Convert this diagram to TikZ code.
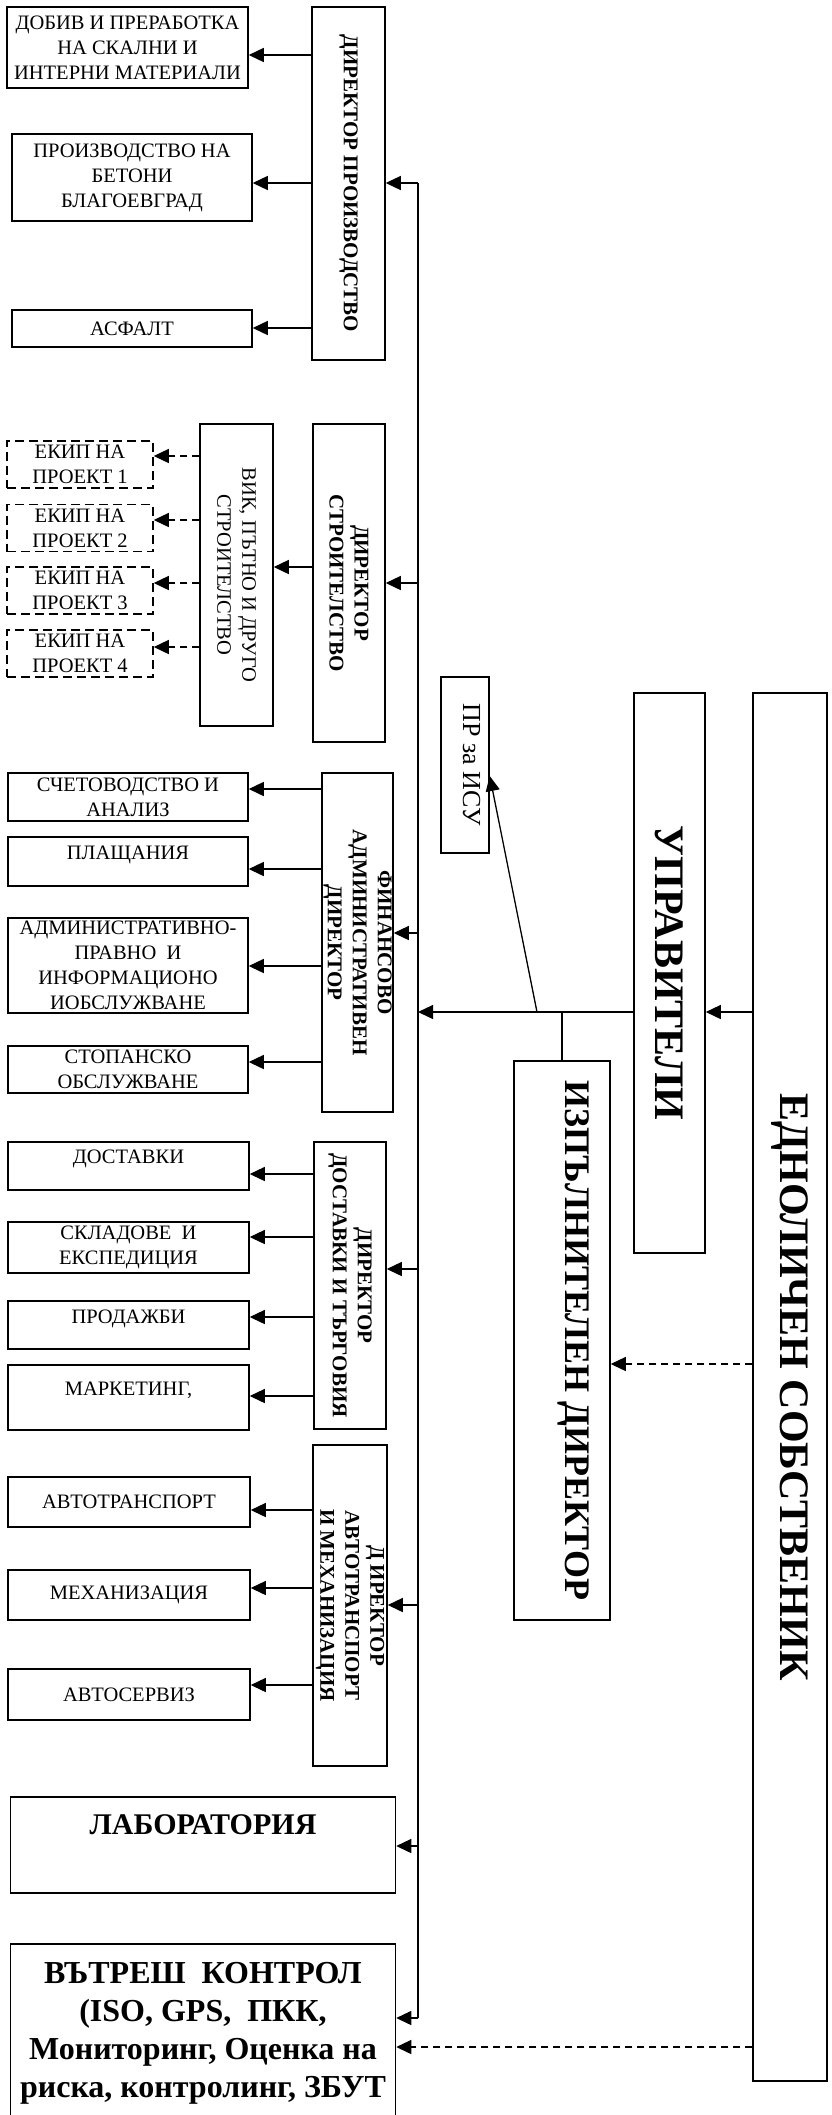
\documentclass[tikz,border=0pt]{standalone}
\usepackage{fontspec}
\setmainfont{Liberation Serif}
\usetikzlibrary{arrows.meta}

\begin{document}
\begin{tikzpicture}[x=1pt, y=-1pt,
		box/.style={draw, line width=1.5pt, inner sep=0pt, align=center, font=\fontsize{20.5}{25}\selectfont},
		ekipbox/.style={box, dash pattern=on 9pt off 5pt, minimum width=146, minimum height=47},
		rotbox/.style={box, rotate=-90},
		dirbox/.style={rotbox, font=\bfseries\fontsize{21}{25}\selectfont},
		bigbox/.style={rotbox, font=\bfseries\fontsize{#1}{#1}\selectfont},
		uptext/.style 2 args={text height=#1, text depth=#2},
		link/.style={line width=1.3pt},
		arr/.style={link, -{Triangle[length=15pt, width=14pt]}},
		darr/.style={arr, dash pattern=on 7pt off 5pt}]

		\useasboundingbox (0,0) rectangle (831,2115);

		% production
		\node (dobiv)[box, minimum width=241, minimum height=81] at (127.5,47.5) {ДОБИВ И ПРЕРАБОТКА\\НА СКАЛНИ И\\ИНТЕРНИ МАТЕРИАЛИ};
		\node (beton)[box, minimum width=240, minimum height=87] at (132,177.5) {ПРОИЗВОДСТВО НА\\БЕТОНИ\\БЛАГОЕВГРАД};
		\node (asfalt)[box, minimum width=240, minimum height=37] at (132,328.5) {АСФАЛТ};
		\node (dirpr)[dirbox, minimum width=353, minimum height=73] at (348.5,183.5) {ДИРЕКТОР ПРОИЗВОДСТВО};

		% construction
		\node (ekip1)[ekipbox] at (80,464.5) {ЕКИП НА\\ПРОЕКТ 1};
		\node (ekip2)[ekipbox] at (80,528)   {ЕКИП НА\\ПРОЕКТ 2};
		\node (ekip3)[ekipbox] at (80,590.5) {ЕКИП НА\\ПРОЕКТ 3};
		\node (ekip4)[ekipbox] at (80,653.5) {ЕКИП НА\\ПРОЕКТ 4};
		\node (vik)[rotbox, minimum width=302, minimum height=73] at (236.5,575) {ВИК, ПЪТНО И ДРУГО\\СТРОИТЕЛСТВО};
		\node (dirstr)[dirbox, minimum width=318, minimum height=72] at (349,583) {ДИРЕКТОР\\СТРОИТЕЛСТВО};

		% finance and administration
		\node (sch)[box, minimum width=240, minimum height=48] at (128,797) {СЧЕТОВОДСТВО И\\АНАЛИЗ};
		\node (plash)[box, minimum width=240, uptext={22pt}{27pt}] at (128,861.5) {ПЛАЩАНИЯ};
		\node (adm)[box, minimum width=240, minimum height=95] at (128,965.5) {АДМИНИСТРАТИВНО-\\ПРАВНО~~И\\ИНФОРМАЦИОНО\\ИОБСЛУЖВАНЕ};
		\node (stop)[box, minimum width=240, minimum height=47] at (128,1069.5) {СТОПАНСКО\\ОБСЛУЖВАНЕ};
		\node (dirfin)[dirbox, minimum width=339, minimum height=71] at (357.5,942.5) {ФИНАНСОВО\\АДМИНИСТРАТИВЕН\\ДИРЕКТОР};

		% supply and trade
		\node (dost)[box, minimum width=241, uptext={21pt}{27pt}] at (128.5,1166) {ДОСТАВКИ};
		\node (sklad)[box, minimum width=241, minimum height=51] at (128.5,1247.5) {СКЛАДОВЕ~~И\\ЕКСПЕДИЦИЯ};
		\node (prod)[box, minimum width=241, uptext={22pt}{26pt}] at (128.5,1325) {ПРОДАЖБИ};
		\node (mark)[box, minimum width=241, uptext={30pt}{35pt}] at (128.5,1397.5) {МАРКЕТИНГ,};
		\node (dirdost)[dirbox, minimum width=287, minimum height=72] at (350,1285.5) {ДИРЕКТОР\\ДОСТАВКИ И ТЪРГОВИЯ};

		% transport and machinery
		\node (atr)[box, minimum width=242, minimum height=50] at (129,1502) {АВТОТРАНСПОРТ};
		\node (meh)[box, minimum width=242, minimum height=50] at (129,1595) {МЕХАНИЗАЦИЯ};
		\node (aserv)[box, minimum width=242, minimum height=51] at (129,1694.5) {АВТОСЕРВИЗ};
		\node (diravt)[dirbox, minimum width=321, minimum height=74] at (350,1605.5) {Д ИРЕКТОР\\АВТОТРАНСПОРТ\\И МЕХАНИЗАЦИЯ};

		% lab and control
		\node (lab)[box, font=\bfseries\fontsize{30}{36}\selectfont, minimum width=385, uptext={37pt}{59pt}] at (203,1845) {ЛАБОРАТОРИЯ};
		\node (vk)[box, font=\bfseries\fontsize{32}{38}\selectfont, minimum width=385, anchor=north] at (203,1943) {\rule{0pt}{40pt}ВЪТРЕШ~~КОНТРОЛ\\(ISO, GPS,~~ПКК,\\Мониторинг, Оценка на\\риска, контролинг, ЗБУТ\rule[-60pt]{0pt}{60pt}};

		% management
		\node (prisu)[rotbox, font=\fontsize{26}{30}\selectfont, minimum width=176, uptext={26pt}{22pt}] at (465,765) {ПР за ИСУ};
		\node (upr)[bigbox=42, minimum width=560, minimum height=71] at (669.5,973) {УПРАВИТЕЛИ};
		\node (izp)[bigbox=36, minimum width=559, uptext={45pt}{51pt}] at (562,1340.5) {ИЗПЪЛНИТЕЛЕН ДИРЕКТОР};
		\node (edn)[bigbox=42, minimum width=1388, minimum height=74] at (790,1387) {ЕДНОЛИЧЕН СОБСТВЕНИК};

		\coordinate (bus) at (418,183);
		\coordinate (busend) at (418,2018);
		\coordinate (isu) at (537,1012);
		\coordinate (izpj) at (562,1012);

		\draw[link] (bus) -- (busend);
		\draw[arr] (bus) -- (bus -| dirpr.north);
		\draw[arr] (bus |- 0,583) -- (dirstr.north |- 0,583);
		\draw[arr] (bus |- 0,933) -- (dirfin.north |- 0,933);
		\draw[arr] (bus |- 0,1269) -- (dirdost.north |- 0,1269);
		\draw[arr] (bus |- 0,1605) -- (diravt.north |- 0,1605);
		\draw[arr] (bus |- 0,1846) -- (lab.east |- 0,1846);
		\draw[arr] (busend) -- (busend -| vk.east);

		\draw[arr] (edn.south |- 0,1012) -- (upr.north |- 0,1012);
		\draw[arr] (upr.south |- 0,1012) -- (bus |- 0,1012);
		\draw[link] (izpj) -- (izp.west);
		\draw[arr] (isu) -- (prisu.north |- 0,776);
		\draw[darr] (edn.south |- 0,1364) -- (izp.north |- 0,1364);
		\draw[darr] (edn.south |- 0,2047) -- (vk.east |- 0,2047);

		\draw[arr] (dirpr.south |- 0,55) -- (dobiv.east |- 0,55);
		\draw[arr] (dirpr.south |- 0,183) -- (beton.east |- 0,183);
		\draw[arr] (dirpr.south |- 0,328) -- (asfalt.east |- 0,328);

		\draw[arr] (dirstr.south |- 0,567) -- (vik.north |- 0,567);
		\draw[darr] (vik.south |- 0,456) -- (ekip1.east |- 0,456);
		\draw[darr] (vik.south |- 0,520) -- (ekip2.east |- 0,520);
		\draw[darr] (vik.south |- 0,583) -- (ekip3.east |- 0,583);
		\draw[darr] (vik.south |- 0,647) -- (ekip4.east |- 0,647);

		\draw[arr] (dirfin.south |- 0,789) -- (sch.east |- 0,789);
		\draw[arr] (dirfin.south |- 0,869) -- (plash.east |- 0,869);
		\draw[arr] (dirfin.south |- 0,966) -- (adm.east |- 0,966);
		\draw[arr] (dirfin.south |- 0,1062) -- (stop.east |- 0,1062);

		\draw[arr] (dirdost.south |- 0,1174) -- (dost.east |- 0,1174);
		\draw[arr] (dirdost.south |- 0,1237) -- (sklad.east |- 0,1237);
		\draw[arr] (dirdost.south |- 0,1317) -- (prod.east |- 0,1317);
		\draw[arr] (dirdost.south |- 0,1396) -- (mark.east |- 0,1396);

		\draw[arr] (diravt.south |- 0,1510) -- (atr.east |- 0,1510);
		\draw[arr] (diravt.south |- 0,1588) -- (meh.east |- 0,1588);
		\draw[arr] (diravt.south |- 0,1685) -- (aserv.east |- 0,1685);
	\end{tikzpicture}
\end{document}
